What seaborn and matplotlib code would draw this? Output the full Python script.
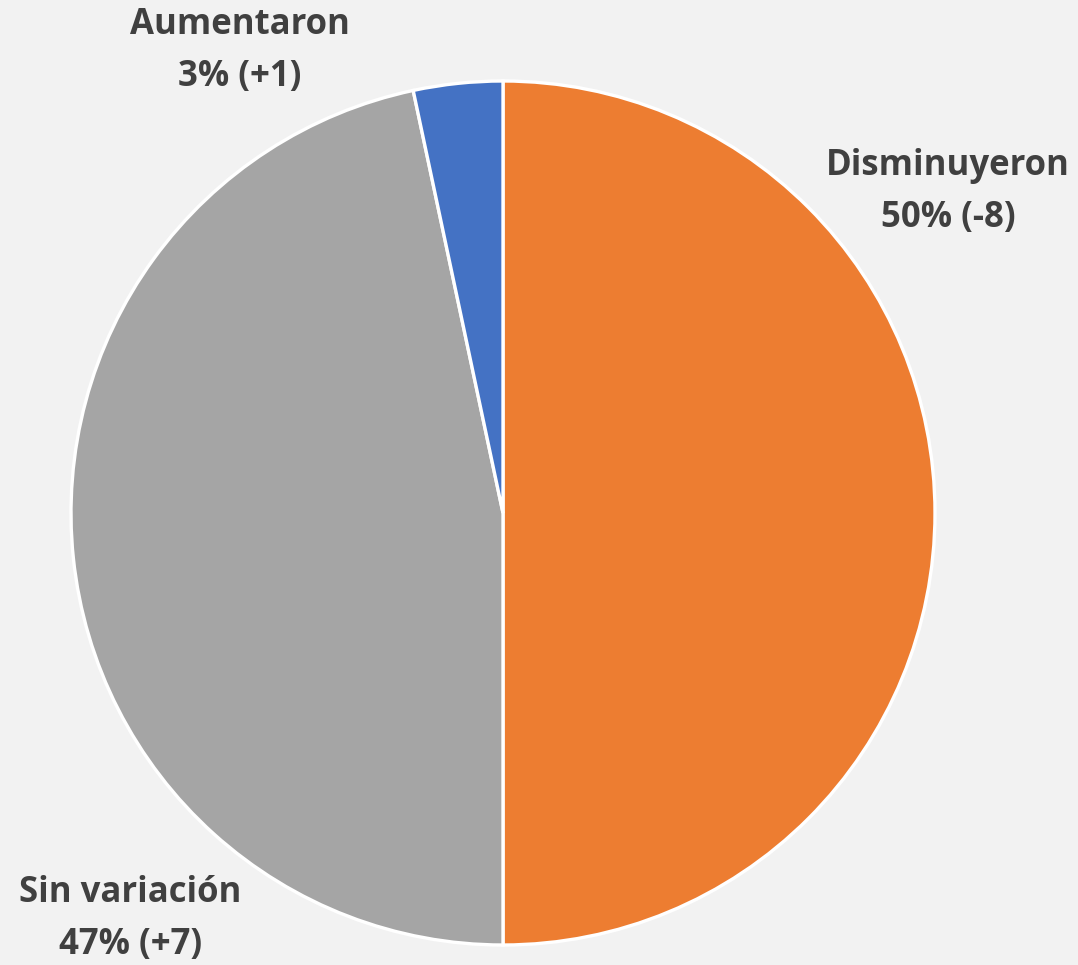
import matplotlib
matplotlib.use("Agg")
import matplotlib.pyplot as plt
import seaborn as sns

categories = ["Disminuyeron", "Sin variación", "Aumentaron"]
counts = [15, 14, 1]
changes = ["-8", "+7", "+1"]
colors = ["#ED7D31", "#A5A5A5", "#4472C4"]

bg = "#F2F2F2"
sns.set_style("white")
plt.rcParams["font.family"] = ["Open Sans", "DejaVu Sans"]

fig = plt.figure(figsize=(10.78, 9.65), dpi=100, facecolor=bg)
ax = fig.add_axes([0, 0, 1, 1], facecolor=bg)

ax.pie(counts, colors=colors, startangle=90, counterclock=False,
       wedgeprops=dict(edgecolor="white", linewidth=2.4))

# pixel layout of the reference: centre (503, 513), radius 432
ax.set_xlim(-503 / 432, (1078 - 503) / 432)
ax.set_ylim(-(965 - 513) / 432, 513 / 432)

total = sum(counts)
label_pos = {
    "Disminuyeron": (1.030, 0.743),
    "Sin variación": (-0.863, -0.940),
    "Aumentaron": (-0.609, 1.069),
}
for cat, n, ch in zip(categories, counts, changes):
    x, y = label_pos[cat]
    ax.text(x, y, f"{cat}\n{round(100 * n / total)}% ({ch})",
            ha="center", va="center", fontsize=25, fontweight="bold",
            color="#404040", linespacing=1.6)

fig.savefig("out.png", dpi=100, facecolor=bg)
